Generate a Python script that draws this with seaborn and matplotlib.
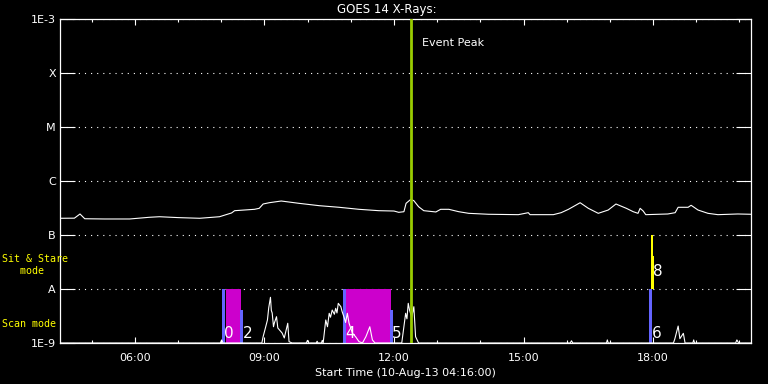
import matplotlib
matplotlib.use('Agg')
import matplotlib.pyplot as plt
from matplotlib.ticker import MultipleLocator, FuncFormatter, NullLocator
import seaborn as sns
import pandas as pd

# Long channel (1-8 A) flux, hours of day on 10-Aug-13
long_hours = [4.27, 4.60, 4.73, 4.84, 5.30, 5.88, 6.34, 6.57, 7.00, 7.50, 7.96,
              8.24, 8.31, 8.77, 8.88, 8.97, 9.11, 9.39, 9.80, 10.27, 10.73, 11.19,
              11.65, 12.00, 12.11, 12.23, 12.28, 12.39, 12.46, 12.57, 12.69, 12.97,
              13.08, 13.27, 13.50, 13.73, 14.19, 14.88, 15.11, 15.15, 15.69, 15.87,
              16.04, 16.31, 16.50, 16.73, 16.96, 17.14, 17.38, 17.54, 17.65, 17.70,
              17.77, 17.83, 18.34, 18.51, 18.58, 18.81, 18.88, 19.04, 19.27, 19.50,
              19.96, 20.27]
long_flux = [2.04e-7, 2.05e-7, 2.45e-7, 2.0e-7, 1.98e-7, 1.98e-7, 2.13e-7, 2.18e-7,
             2.1e-7, 2.04e-7, 2.18e-7, 2.56e-7, 2.82e-7, 2.99e-7, 3.12e-7, 3.75e-7,
             3.96e-7, 4.26e-7, 3.86e-7, 3.49e-7, 3.26e-7, 2.99e-7, 2.82e-7, 2.78e-7,
             2.63e-7, 2.70e-7, 3.86e-7, 4.58e-7, 4.32e-7, 3.34e-7, 2.82e-7, 2.67e-7,
             2.99e-7, 2.99e-7, 2.70e-7, 2.52e-7, 2.42e-7, 2.38e-7, 2.59e-7, 2.38e-7,
             2.38e-7, 2.59e-7, 2.99e-7, 3.96e-7, 3.12e-7, 2.52e-7, 2.90e-7, 3.75e-7,
             3.12e-7, 2.70e-7, 2.52e-7, 3.12e-7, 2.78e-7, 2.38e-7, 2.45e-7, 2.59e-7,
             3.26e-7, 3.26e-7, 3.55e-7, 2.90e-7, 2.52e-7, 2.38e-7, 2.45e-7, 2.42e-7]

# Short channel flux near the bottom
short_hours = [4.27, 7.98, 8.01, 8.04, 8.94, 8.97, 9.03, 9.07, 9.10, 9.14, 9.16,
               9.18, 9.21, 9.23, 9.28, 9.31, 9.35, 9.41, 9.46, 9.54, 9.57, 9.64,
               9.97, 9.997, 10.02, 10.20, 10.22, 10.24, 10.32, 10.34, 10.36, 10.42,
               10.46, 10.50, 10.53, 10.57, 10.62, 10.65, 10.68, 10.71, 10.77, 10.80,
               10.84, 10.88, 10.92, 10.96, 11.04, 11.11, 11.19, 11.27, 11.35, 11.44,
               11.50, 11.56, 12.18, 12.27, 12.30, 12.33, 12.36, 12.41, 12.46, 12.50,
               12.57, 16.08, 16.11, 16.14, 16.92, 16.94, 16.96, 18.47, 18.50, 18.58,
               18.62, 18.65, 18.70, 18.74, 18.92, 18.94, 18.96, 19.91, 19.94, 19.98,
               20.27]
short_flux = [1e-9, 1e-9, 1.14e-9, 1e-9, 1e-9, 1.31e-9, 2.0e-9, 2.67e-9, 4.5e-9,
              7.02e-9, 4.0e-9, 3.59e-9, 2.0e-9, 2.35e-9, 3.07e-9, 1.9e-9, 1.74e-9,
              1.53e-9, 1.24e-9, 2.32e-9, 1.06e-9, 1e-9, 1e-9, 1.12e-9, 1e-9, 1e-9,
              1.08e-9, 1e-9, 1e-9, 1.12e-9, 1e-9, 2.67e-9, 2.0e-9, 3.55e-9, 3.0e-9,
              4.08e-9, 3.4e-9, 4.39e-9, 3.6e-9, 5.43e-9, 4.70e-9, 3.80e-9, 3.07e-9,
              2.4e-9, 3.55e-9, 2.32e-9, 1.51e-9, 1.31e-9, 1.06e-9, 1e-9, 1.31e-9,
              2.0e-9, 1.14e-9, 1e-9, 1e-9, 3.55e-9, 2.8e-9, 5.43e-9, 4.08e-9, 3.0e-9,
              4.70e-9, 1.31e-9, 1e-9, 1e-9, 1.10e-9, 1e-9, 1e-9, 1.14e-9, 1e-9, 1e-9,
              1.17e-9, 2.06e-9, 1.2e-9, 1.31e-9, 1.51e-9, 1e-9, 1e-9, 1.14e-9, 1e-9,
              1e-9, 1.14e-9, 1e-9, 1e-9]

# Scan mode rasters
scan_start = [8.10, 10.90]
scan_end = [8.46, 11.92]
marker_hours = [8.02, 8.44, 10.82, 11.90, 17.91]
marker_top = [1e-8, 4.1e-9, 1e-8, 4.1e-9, 1e-8]
marker_labels = ['0', '2', '4', '5', '6']

# Sit & stare
stare_hours = [17.94, 18.00]
stare_top = [1e-7, 4.1e-8]
stare_label = '8'

peak_hour = 12.40
y_levels = [1e-9, 1e-8, 1e-7, 1e-6, 1e-5, 1e-4, 1e-3]
y_labels = ['1E-9', 'A', 'B', 'C', 'M', 'X', '1E-3']
t_start = 4 + 16 / 60

sns.set_theme(style='dark', rc={'axes.facecolor': 'black', 'figure.facecolor': 'black',
                                 'axes.edgecolor': 'white', 'text.color': 'white',
                                 'xtick.color': 'white', 'ytick.color': 'white',
                                 'axes.labelcolor': 'white'})
plt.rcParams['font.family'] = ['DejaVu Sans']

fig = plt.figure(figsize=(7.68, 3.84), dpi=100)
ax = fig.add_axes([60 / 768, 1 - 343 / 384, 691 / 768, 324 / 384])
ax.set_yscale('log')

# scan mode bars
ax.bar(scan_start, [1e-8 - 1e-9] * len(scan_start),
       width=[e - s for s, e in zip(scan_start, scan_end)], bottom=1e-9,
       align='edge', color='#cc00cc', linewidth=0, zorder=2)
ax.bar(marker_hours, [t - 1e-9 for t in marker_top], width=0.07, bottom=1e-9,
       align='edge', color='#6464ff', linewidth=0, zorder=2)
ax.bar(stare_hours, [t - 1e-8 for t in stare_top], width=[0.055, 0.025], bottom=1e-8,
       align='edge', color='#ffff00', linewidth=0, zorder=2)

df_long = pd.DataFrame({'hour': long_hours, 'flux': long_flux})
df_short = pd.DataFrame({'hour': short_hours, 'flux': short_flux})
sns.lineplot(data=df_short, x='hour', y='flux', color='white', lw=0.8, ax=ax, zorder=3)
sns.lineplot(data=df_long, x='hour', y='flux', color='white', lw=0.8, ax=ax, zorder=3)

for h, lab in zip(marker_hours, marker_labels):
    ax.text(h + 0.05, 1.08e-9, lab, color='white', fontsize=11, ha='left', va='bottom', zorder=4)
ax.text(stare_hours[0] + 0.06, 2.1e-8, stare_label, color='white', fontsize=11,
        ha='left', va='center', zorder=4)

ax.axvline(peak_hour, color='#99cc00', lw=2, zorder=4)
ax.text(peak_hour + 0.25, 3.6e-4, 'Event Peak', color='white', fontsize=8, va='center')

ax.set_xlim(t_start, t_start + 16)
ax.set_ylim(1e-9, 1e-3)
ax.set_yticks(y_levels)
ax.set_yticklabels(y_labels)
ax.yaxis.set_minor_locator(NullLocator())
ax.xaxis.set_major_locator(MultipleLocator(3))
ax.xaxis.set_minor_locator(MultipleLocator(1))
ax.xaxis.set_major_formatter(FuncFormatter(lambda h, p: f'{int(round(h)):02d}:00'))

ax.tick_params(axis='y', which='major', direction='in', length=11, width=0.8,
               left=True, right=True, labelsize=8, pad=3)
ax.tick_params(axis='x', which='major', direction='in', length=4.5, width=0.8,
               top=True, bottom=True, labelsize=8, pad=7)
ax.tick_params(axis='x', which='minor', direction='in', length=2.5, width=0.8,
               top=True, bottom=True)
ax.yaxis.grid(True, color='white', linestyle=(0, (1, 4.5)), lw=0.8)
ax.xaxis.grid(False)
for s in ax.spines.values():
    s.set_color('white')
    s.set_linewidth(0.9)

ax.set_xlabel('Start Time (10-Aug-13 04:16:00)', fontsize=8, labelpad=4)
ax.set_ylabel('')
fig.text(387 / 768, 1 - 10 / 384, 'GOES 14 X-Rays:', color='white', fontsize=8.5,
         ha='center', va='center')
fig.text(2 / 768, 1 - 265 / 384, 'Sit & Stare\n   mode', color='#ffff00', fontsize=7.2,
         family='DejaVu Sans Mono', ha='left', va='center', linespacing=1.15)
fig.text(2 / 768, 1 - 324 / 384, 'Scan mode', color='#ffff00', fontsize=7.2,
         family='DejaVu Sans Mono', ha='left', va='center')

fig.savefig('out.png', dpi=100, facecolor='black')
